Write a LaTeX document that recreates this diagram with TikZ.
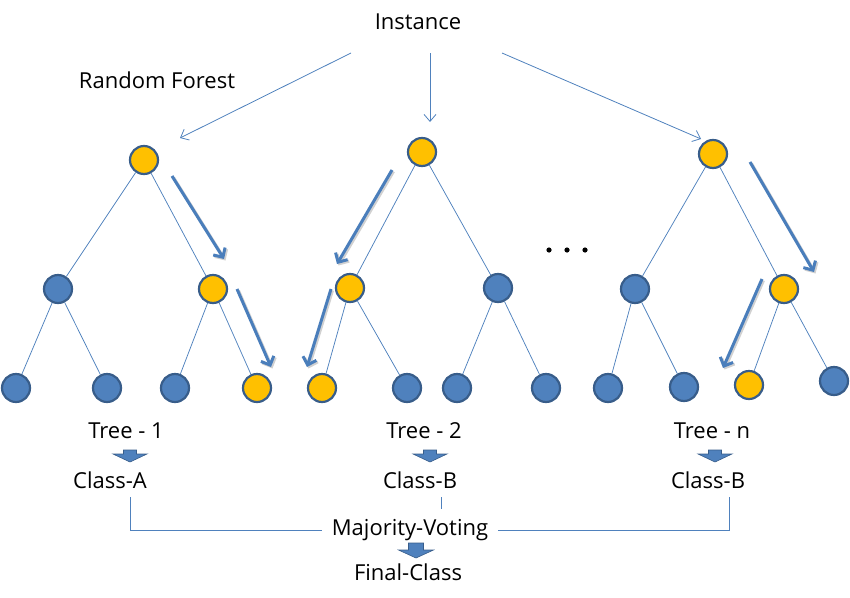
\documentclass[tikz,border=0pt]{standalone}
\usepackage{fontspec}
\setmainfont{Open Sans}
\usetikzlibrary{arrows.meta}
\definecolor{orng}{HTML}{FFC000}
\definecolor{blu}{HTML}{4F81BD}
\definecolor{bord}{HTML}{385D8A}
\definecolor{thk}{HTML}{4A7EBB}
\newcommand\walkarrow[2]{%
  \draw[walkshadow, transform canvas={shift={(1.5pt,-1.5pt)}}] (#1) -- (#2);
  \draw[walk] (#1) -- (#2);}
\begin{document}
\begin{tikzpicture}[x=1pt,y=-1pt,
  every node/.style={font=\fontsize{22}{26}\selectfont, inner sep=2pt},
  nd/.style={circle, minimum size=28pt, inner sep=0pt, line width=2.2pt, draw=bord},
  on/.style={nd, fill=orng},
  bn/.style={nd, fill=blu},
  link/.style={draw=blu, line width=0.75pt},
  feed/.style={draw=blu, line width=0.8pt, -{Straight Barb[length=7pt,width=12pt]}},
  walk/.style={draw=thk, line width=3pt, -{Straight Barb[length=7pt,width=14pt]}},
  walkshadow/.style={draw=black!18, line width=3pt, -{Straight Barb[length=7pt,width=14pt]}},
  blockdn/.pic={\filldraw[fill=blu, draw=bord, line width=0.6pt]
     (-6.5,-6) -- (6.5,-6) -- (6.5,-2) -- (17,-2) -- (0,6) -- (-17,-2) -- (-6.5,-2) -- cycle;},
  blockdnb/.pic={\filldraw[fill=blu, draw=bord, line width=0.6pt]
     (-7.5,-7) -- (7.5,-7) -- (7.5,0) -- (17.5,0) -- (0,8) -- (-17.5,0) -- (-7.5,0) -- cycle;}
]
\useasboundingbox (0,0) rectangle (850,597);

% titles
\node (inst) at (418,22) {Instance};
\node (rf) at (157,80) {Random Forest};

% tree 1
\node[on] (r1) at (144,160) {};
\node[bn] (a1) at (58,289) {};
\node[on] (b1) at (213,289) {};
\node[bn] (l11) at (16,388) {};
\node[bn] (l12) at (107,388) {};
\node[bn] (l13) at (175,388) {};
\node[on] (l14) at (257,388) {};
% tree 2
\node[on] (r2) at (422,152) {};
\node[on] (a2) at (350,288) {};
\node[bn] (b2) at (498,288) {};
\node[on] (l21) at (322,388) {};
\node[bn] (l22) at (407,388) {};
\node[bn] (l23) at (457,388) {};
\node[bn] (l24) at (546,388) {};
% tree n
\node[on] (r3) at (713,154) {};
\node[bn] (a3) at (635,289) {};
\node[on] (b3) at (784,289) {};
\node[bn] (l31) at (608,388) {};
\node[bn] (l32) at (684,387) {};
\node[on] (l33) at (749,385) {};
\node[bn] (l34) at (834,381) {};

% edges
\foreach \r/\a/\b in {r1/a1/b1, r2/a2/b2, r3/a3/b3} {
  \draw[link] (\r) -- (\a);
  \draw[link] (\r) -- (\b);
}
\foreach \p/\c in {a1/l11, a1/l12, b1/l13, b1/l14,
                   a2/l21, a2/l22, b2/l23, b2/l24,
                   a3/l31, a3/l32, b3/l33, b3/l34} {
  \draw[link] (\p) -- (\c);
}

% instance arrows
\coordinate (i1) at (351,53);
\coordinate (i2) at (430,53);
\coordinate (i3) at (502,53);
\coordinate (e1) at (180,138);
\coordinate (e2) at (430,122);
\coordinate (e3) at (701,139);
\draw[feed] (i1) -- (e1);
\draw[feed] (i2) -- (e2);
\draw[feed] (i3) -- (e3);

% decision path arrows
\coordinate (p1s) at (172,176); \coordinate (p1e) at (224,259);
\coordinate (p2s) at (237,289); \coordinate (p2e) at (271,367);
\coordinate (p3s) at (392,170); \coordinate (p3e) at (337,264);
\coordinate (p4s) at (331,289); \coordinate (p4e) at (307,367);
\coordinate (p5s) at (750,162); \coordinate (p5e) at (814,272);
\coordinate (p6s) at (762,279); \coordinate (p6e) at (723,368);
\walkarrow{p1s}{p1e}
\walkarrow{p2s}{p2e}
\walkarrow{p3s}{p3e}
\walkarrow{p4s}{p4e}
\walkarrow{p5s}{p5e}
\walkarrow{p6s}{p6e}

% dots
\fill (549,250) circle (2.6);
\fill (567,250) circle (2.6);
\fill (585,250) circle (2.6);

% labels
\node (t1) at (126,431) {Tree - 1};
\node (t2) at (424,431) {Tree - 2};
\node (tn) at (712,431) {Tree - n};
\pic at (130,456) {blockdn};
\pic at (430,456) {blockdn};
\pic at (715,456) {blockdn};
\node (ca) at (110,480) {Class-A};
\node (cb) at (420,480) {Class-B};
\node (cn) at (708,480) {Class-B};
\node[inner xsep=10pt] (mv) at (410,530) {Majority-Voting};
\pic at (416,550) {blockdnb};
\node (fc) at (408,572) {Final-Class};

% voting lines
\coordinate (ca1) at (130,497);
\coordinate (cb1) at (441,497);
\coordinate (cb2) at (441,509);
\coordinate (cn1) at (729,497);
\draw[link] (ca1) |- (mv.west);
\draw[link] (cb1) -- (cb2);
\draw[link] (cn1) |- (mv.east);
\end{tikzpicture}
\end{document}
